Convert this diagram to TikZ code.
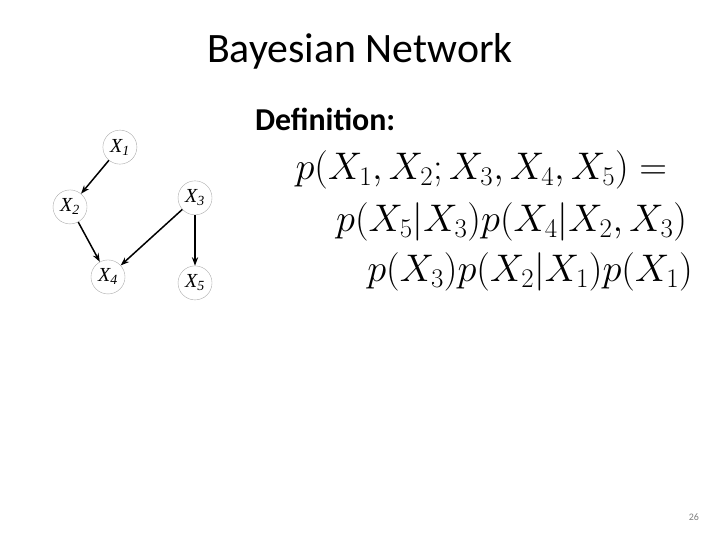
\RequirePackage{fix-cm}
\documentclass[tikz,border=0pt]{standalone}
\usepackage{amsmath,amssymb}
\usepackage[no-math]{fontspec}
\setmainfont{Carlito}
\newfontfamily\varfont{Liberation Serif}
\usepackage{xcolor}
\usepackage{tikz}
\usetikzlibrary{arrows.meta, positioning}
\definecolor{pagegray}{HTML}{7F7F7F}
\definecolor{ringgray}{HTML}{ABABAB}

\newcommand{\var}[1]{{\varfont\itshape X\textsubscript{#1}}}

\begin{document}
\begin{tikzpicture}[
    rv/.style={circle, draw=ringgray, line width=0.4pt, minimum size=1.2cm, inner sep=0pt, font=\fontsize{20}{22}\selectfont},
    arr/.style={-{Stealth[length=3mm, width=2.2mm]}, line width=1.5pt},
    eqn/.style={anchor=west, inner sep=0pt, font=\fontsize{38.6}{46}\selectfont}
]
\useasboundingbox (0,0) rectangle (25.4,-19.05);

% Title
\node[font=\fontsize{42}{50}\selectfont] (title) at (12.70,-1.80) {Bayesian Network};
\node[anchor=west, inner sep=0pt, font=\fontsize{32}{38}\selectfont\bfseries] (defn) at (8.99,-4.23) {Definition:};

% Network
\node[rv] (x1) at (4.23,-5.19) {\var{1}};
\node[rv] (x2) at (2.47,-7.30) {\var{2}};
\node[rv] (x3) at (6.88,-6.98) {\var{3}};
\node[rv] (x4) at (3.81,-9.77) {\var{4}};
\node[rv] (x5) at (6.88,-9.98) {\var{5}};

\draw[arr] (x1) -- (x2);
\draw[arr] (x2) -- (x4);
\draw[arr] (x3) -- (x4);
\draw[arr] (x3) -- (x5);

% Factorization
\node[eqn] (line1) at (10.42,-6.00) {$p(X_1, X_2; X_3, X_4, X_5) =$};
\node[eqn] (line2) at (11.85,-7.83) {$p(X_5|X_3)p(X_4|X_2, X_3)$};
\node[eqn] (line3) at (12.95,-9.59) {$p(X_3)p(X_2|X_1)p(X_1)$};

% Slide number
\node[pagegray, font=\fontsize{10}{12}\selectfont] (num) at (24.48,-18.24) {26};
\end{tikzpicture}
\end{document}
